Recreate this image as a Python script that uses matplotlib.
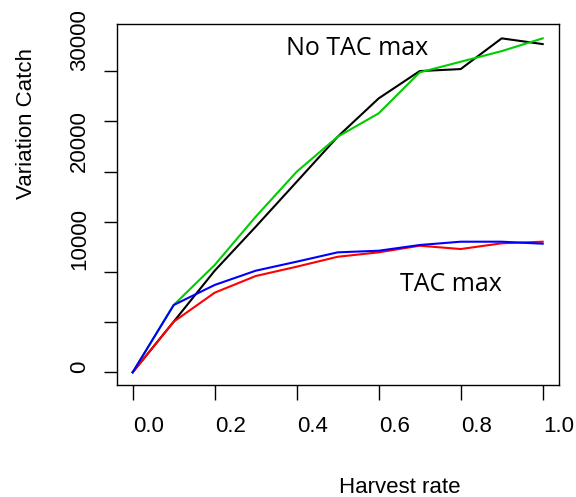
import matplotlib
matplotlib.use("Agg")
import matplotlib.pyplot as plt
from matplotlib.ticker import NullFormatter

# data
harvest = [0.0, 0.1, 0.2, 0.3, 0.4, 0.5, 0.6, 0.7, 0.8, 0.9, 1.0]
notac_black = [0, 5040, 10120, 14500, 18980, 23470, 27290, 30010, 30210, 33270, 32700]
notac_green = [0, 6700, 10690, 15500, 19980, 23470, 25800, 29880, 30940, 32000, 33270]
tac_red = [0, 5040, 7930, 9590, 10520, 11510, 11950, 12610, 12280, 12850, 13010]
tac_blue = [0, 6700, 8700, 10120, 11020, 11950, 12110, 12680, 13010, 13010, 12810]

y_ticks = [0, 5000, 10000, 15000, 20000, 25000, 30000]
y_label_pos = [560, 13280, 23070, 33130]
y_labels = ["0", "10000", "20000", "30000"]
x_ticks = [0.0, 0.2, 0.4, 0.6, 0.8, 1.0]
x_label_pos = [0.039, 0.239, 0.439, 0.639, 0.839, 1.039]
x_labels = ["0.0", "0.2", "0.4", "0.6", "0.8", "1.0"]

plt.rcParams["font.family"] = ["Liberation Sans", "DejaVu Sans"]

fig = plt.figure(figsize=(5.76, 4.97), dpi=100)
ax = fig.add_axes([0.2026, 0.2254, 0.7684, 0.7263])

lw = 1.5
ax.plot(harvest, notac_black, color="black", lw=lw)
ax.plot(harvest, notac_green, color="#00CD00", lw=lw)
ax.plot(harvest, tac_red, color="#FF0000", lw=lw)
ax.plot(harvest, tac_blue, color="#0000FF", lw=lw)

ax.set_xlim(-0.039, 1.0405)
ax.set_ylim(-1265, 34700)

# tick marks (major) and shifted labels (minor, zero length)
ax.set_xticks(x_ticks)
ax.xaxis.set_major_formatter(NullFormatter())
ax.set_xticks(x_label_pos, minor=True)
ax.set_xticklabels(x_labels, minor=True, fontsize=16)
ax.tick_params(axis="x", which="major", length=10.8, width=1)
ax.tick_params(axis="x", which="minor", length=0, pad=22)

ax.set_yticks(y_ticks)
ax.yaxis.set_major_formatter(NullFormatter())
ax.set_yticks(y_label_pos, minor=True)
ax.set_yticklabels(y_labels, minor=True, fontsize=16, rotation=90, va="center")
ax.tick_params(axis="y", which="major", length=9.6, width=1)
ax.tick_params(axis="y", which="minor", length=0, pad=19)

for s in ax.spines.values():
    s.set_linewidth(1.0)

ax.set_xlabel("Harvest rate", fontsize=16, va="center")
ax.xaxis.set_label_coords(0.640, -0.285)
ax.set_ylabel("Variation Catch", fontsize=16, va="center", ha="center")
ax.yaxis.set_label_coords(-0.2027, 0.723)

ax.text(0.547, 32300, "No TAC max", fontsize=18, family="Open Sans",
        ha="center", va="center")
ax.text(0.775, 8700, "TAC max", fontsize=18, family="Open Sans",
        ha="center", va="center")

fig.savefig("out.png", dpi=100)
